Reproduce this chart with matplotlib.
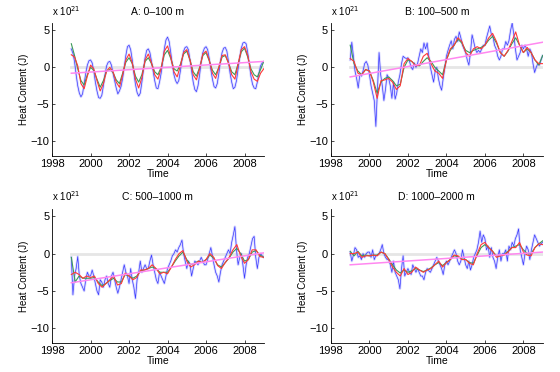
import numpy as np
import matplotlib
matplotlib.use('Agg')
import matplotlib.pyplot as plt

plt.rcParams['font.family'] = ['Liberation Sans', 'DejaVu Sans']

# time axis for the monthly raw series; smoothed series are evenly spaced 1999-2009
t_month = 1999 + np.arange(121) / 12.0

titles = ['A: 0\u2013100 m', 'B: 100\u2013500 m', 'C: 500\u20131000 m', 'D: 1000\u20132000 m']

# ---- panel A: 0-100 m (smoothed series every 2 months) ----
blue_a = [2.5, 1.9, 0.8, -1.0, -2.5, -3.5, -4.0, -3.6, -2.2, -0.8, 0.3, 0.9,
          1.0, 0.6, -0.5, -2.0, -3.2, -4.1, -4.2, -3.8, -2.5, -1.0, 0.2, 0.7,
          0.8, 0.3, -0.8, -1.8, -2.8, -3.6, -3.2, -2.6, -1.5, 0.0, 1.6, 2.8,
          3.0, 2.4, 1.0, -0.8, -2.3, -3.4, -3.9, -3.5, -2.0, -0.3, 1.3, 2.3,
          2.5, 2.0, 0.8, -0.5, -1.8, -2.8, -2.9, -2.0, -0.8, 0.8, 2.5, 3.7,
          4.1, 3.5, 2.0, 0.3, -1.0, -1.8, -2.2, -1.8, -0.5, 1.0, 2.2, 2.7,
          2.8, 2.4, 1.0, -0.5, -2.0, -3.0, -3.3, -2.5, -1.0, 0.8, 2.0, 2.6,
          2.8, 2.4, 1.2, -0.3, -1.6, -2.6, -2.8, -2.2, -0.8, 0.8, 2.0, 2.6,
          2.7, 2.2, 0.8, -0.8, -2.0, -2.9, -2.7, -1.8, -0.2, 1.3, 2.6, 3.3,
          3.4, 3.2, 2.0, 0.4, -1.2, -2.3, -2.8, -2.9, -2.0, -0.8, 0.2, 0.6,
          0.7]
red_a = [1.7, 1.4, 0.2, -2.2, -2.9, -1.2,
         0.3, -0.2, -1.8, -3.2, -2.2, -0.5,
         0.0, -0.6, -2.0, -2.7, -1.0, 1.0,
         1.8, 0.6, -1.6, -2.8, -1.4, 1.0,
         1.8, 0.6, -1.0, -1.6, -0.2, 2.2,
         2.9, 1.4, -0.6, -1.3, 0.2, 2.0,
         2.4, 1.0, -1.0, -1.7, -0.2, 1.8,
         2.2, 1.0, -0.8, -1.5, 0.0, 1.6,
         1.7, 0.6, -1.0, -1.6, 0.4, 2.4,
         2.8, 1.6, -0.6, -1.6, -1.9, -0.8,
         -0.2]
green_a = [3.2, 1.6, -0.2, -1.8, -2.4, -1.0,
           0.0, -0.4, -1.6, -2.7, -1.8, -0.5,
           -0.3, -0.7, -1.7, -2.2, -0.8, 0.7,
           1.3, 0.5, -1.2, -2.0, -1.0, 0.8,
           1.3, 0.5, -0.6, -1.0, 0.0, 1.7,
           2.3, 1.2, -0.2, -0.5, 0.4, 1.8,
           2.2, 1.0, -0.6, -1.2, 0.0, 1.6,
           2.0, 0.9, -0.4, -1.0, 0.0, 1.4,
           1.6, 0.6, -0.6, -1.0, 0.5, 2.1,
           2.6, 1.4, -0.2, -1.0, -1.3, -0.3,
           0.8]
trend_a = [-0.8, 0.8]

# ---- panel B: 100-500 m (smoothed series every 0.2 yr) ----
blue_b = [1.0, 3.4, 1.5, -0.5, -1.5, -2.8, -1.0, -1.2, -0.5, 0.5, 0.8, 0.3,
          -1.0, -2.5, -3.5, -4.5, -8.0, -3.0, 2.0, -1.0, -2.5, -4.5, -3.0, -1.0,
          -1.5, -2.5, -4.2, -2.0, -4.3, -3.5, -2.0, -1.0, 0.5, 1.5, 1.3, 1.2,
          1.3, 0.8, 0.0, -0.3, 0.6, 0.0, 0.5, 1.5, 2.5, 2.0, 3.3, 2.5,
          3.3, 1.5, 0.0, -1.0, -2.0, -0.5, 0.0, -1.5, -2.5, -3.1, -1.5, 0.0,
          1.5, 2.3, 3.0, 3.6, 2.5, 3.8, 4.2, 3.5, 4.8, 4.0, 3.0, 2.5,
          2.0, 1.0, 0.3, 2.0, 4.4, 3.5, 2.5, 2.0, 2.3, 2.0, 2.5, 3.0,
          3.0, 4.0, 4.8, 5.6, 4.5, 4.2, 3.0, 2.5, 1.5, 1.0, 1.5, 2.5,
          2.5, 3.5, 3.0, 3.6, 5.0, 6.0, 4.5, 2.5, 1.0, 1.5, 2.0, 3.0,
          2.5, 3.0, 2.5, 1.5, 2.5, 2.0, 0.5, -0.7, 0.0, 0.5, 0.3, 1.0,
          1.6]
red_b = [1.2, 0.8, -0.8, -1.0, -0.3,
         -0.5, -2.0, -4.2, -1.8, -1.7,
         -1.5, -2.0, -3.0, -2.5, 0.5,
         1.2, 0.8, 0.2, 0.3, 1.5,
         1.9, 0.5, -0.5, -0.8, -1.5,
         1.0, 2.5, 3.0, 4.0, 3.5,
         2.0, 1.5, 2.5, 2.8, 2.5,
         3.0, 4.0, 4.6, 3.5, 2.0,
         1.5, 2.3, 3.5, 4.8, 3.0,
         2.0, 2.7, 2.0, 1.0, 0.5,
         0.5]
green_b = [3.0, 0.5, -0.5, -1.0, -0.3,
           -0.5, -1.8, -3.5, -2.0, -1.5,
           -1.3, -1.8, -2.5, -2.3, 0.0,
           1.0, 0.8, 0.3, 0.2, 0.8,
           1.3, 0.8, 0.0, -0.5, -1.0,
           1.0, 2.3, 3.0, 3.8, 3.3,
           2.3, 2.0, 2.3, 2.5, 2.7,
           3.0, 3.7, 4.2, 3.3, 2.0,
           1.5, 2.2, 3.2, 4.0, 3.0,
           2.0, 2.5, 2.0, 1.0, 0.3,
           1.6]
trend_b = [-1.3, 3.4]

# ---- panel C: 500-1000 m ----
blue_c = [-0.5, -5.5, -3.0, -2.0, -0.4, -3.0, -4.0, -4.5, -5.0, -3.5, -2.5, -3.0,
          -3.0, -2.2, -3.0, -4.0, -5.0, -5.5, -3.5, -3.8, -4.5, -3.5, -3.0, -4.0,
          -4.5, -3.0, -2.5, -3.5, -4.5, -5.3, -4.5, -3.5, -2.5, -1.5, -2.5, -3.0,
          -4.0, -2.0, -3.5, -4.5, -6.0, -3.5, -2.5, -1.0, -2.5, -2.0, -1.5, -2.0,
          -2.0, -1.0, -0.2, -1.5, -2.5, -3.5, -4.0, -2.5, -3.0, -3.5, -4.0, -3.0,
          -2.0, -1.5, -1.0, -0.3, 0.0, 0.5, 0.2, 0.8, 1.2, 1.8, 0.0, -1.0,
          -2.0, -1.0, -1.5, -3.0, -2.0, -1.0, -1.2, -1.5, -1.0, -0.5, -1.0, -1.5,
          -1.5, -0.8, 0.0, 0.8, -0.3, -1.5, -2.5, -3.0, -3.8, -2.5, -1.5, -1.0,
          -0.5, 0.0, 0.5, 0.0, 1.5, 2.5, 3.6, 0.5, -1.5, -0.5, 0.0, -1.5,
          -3.3, -1.5, -0.5, 0.0, 1.0, 2.0, 2.3, -0.5, -2.0, -0.5, 0.0, -0.3,
          -0.5]
red_c = [-2.8, -2.5, -2.8, -3.3, -3.0,
         -3.2, -3.0, -4.0, -4.5, -4.0,
         -3.5, -3.0, -4.2, -4.0, -2.6,
         -3.0, -3.5, -3.2, -2.2, -2.2,
         -2.0, -1.5, -2.0, -2.7, -2.5,
         -2.7, -1.8, -0.8, 0.0, 0.4,
         -1.0, -1.8, -1.5, -1.0, -1.2,
         -0.8, 0.0, -0.5, -1.6, -2.0,
         -1.2, -0.5, 0.5, 1.2, -0.3,
         -1.3, -0.8, 0.5, 0.5, -0.4,
         -0.5]
green_c = [-0.5, -3.8, -3.0, -3.3, -3.3,
           -3.3, -3.2, -3.8, -4.3, -4.0,
           -3.6, -3.3, -3.8, -3.8, -2.8,
           -3.0, -3.3, -3.0, -2.3, -2.2,
           -2.0, -1.8, -2.0, -2.5, -2.5,
           -2.5, -1.8, -1.0, -0.3, 0.2,
           -0.8, -1.5, -1.3, -1.0, -1.2,
           -0.8, -0.2, -0.6, -1.5, -1.8,
           -1.2, -0.6, 0.2, 0.7, 0.0,
           -1.0, -0.8, 0.2, 0.4, -0.2,
           -0.5]
trend_c = [-3.9, 0.1]

# ---- panel D: 1000-2000 m ----
blue_d = [0.2, -1.0, -0.2, 0.8, 0.5, -0.5, -0.3, -0.8, 0.0, -0.5, 0.0, 0.2,
          0.2, -0.5, 0.5, -0.8, -0.3, -0.2, 0.0, 0.5, 1.2, 0.0, -0.5, -0.8,
          -0.8, -1.5, -2.5, -1.0, -2.5, -3.0, -3.5, -4.7, -2.0, -0.3, -3.0, -2.5,
          -2.0, -2.5, -2.8, -1.5, -2.0, -2.5, -2.0, -2.5, -3.0, -3.0, -3.5, -2.5,
          -2.0, -2.3, -2.5, -2.0, -1.5, -1.0, -0.5, -1.0, -1.5, -2.0, -2.8, -1.5,
          -1.0, -1.5, -1.0, -0.5, 0.0, 0.5, 0.0, -1.0, -1.5, -1.0, 0.5, -0.5,
          -1.5, -2.0, -1.0, -2.2, -1.5, -0.5, 0.0, 0.5, 1.5, 3.0, 1.5, 2.5,
          2.0, 0.5, 1.0, -0.5, 0.8, -0.5, -1.0, -2.0, -0.5, 0.5, -1.0, 0.0,
          0.0, 0.5, -1.0, 1.0, 0.5, 1.5, 1.0, 2.0, 2.5, 3.3, 0.5, -0.5,
          -1.5, 0.0, 1.0, 0.5, -0.8, 0.5, 1.5, 2.5, 2.0, 1.5, 1.0, 1.3,
          1.5]
red_d = [0.0, 0.0, 0.2, -0.5, -0.3,
         -0.3, -0.2, -0.3, 0.2, 0.0,
         -0.8, -1.8, -2.5, -3.0, -2.0,
         -2.8, -2.5, -1.8, -2.2, -2.5,
         -2.2, -2.0, -1.5, -1.0, -1.8,
         -1.2, -0.8, -0.2, -0.3, -0.8,
         -0.8, -1.3, -1.5, 0.0, 1.2,
         1.5, 0.8, 0.3, -0.5, -0.3,
         -0.2, 0.2, 0.8, 0.8, 1.5,
         0.2, -0.2, -0.3, 0.8, 1.3,
         1.2]
green_d = [0.3, -0.3, 0.3, -0.3, -0.2,
           -0.3, -0.2, -0.2, 0.2, 0.0,
           -0.7, -1.5, -2.2, -2.6, -2.2,
           -2.5, -2.3, -2.0, -2.2, -2.4,
           -2.2, -1.9, -1.5, -1.2, -1.6,
           -1.2, -0.8, -0.3, -0.4, -0.7,
           -0.8, -1.2, -1.3, -0.2, 0.8,
           1.2, 0.8, 0.3, -0.3, -0.3,
           -0.1, 0.3, 0.8, 1.0, 1.2,
           0.5, 0.0, 0.0, 0.8, 1.3,
           1.7]
trend_d = [-1.5, 0.2]

trend_t = [1999, 2009]
zero_line = [0, 0]

panels = [
    (titles[0], blue_a, red_a, green_a, trend_a),
    (titles[1], blue_b, red_b, green_b, trend_b),
    (titles[2], blue_c, red_c, green_c, trend_c),
    (titles[3], blue_d, red_d, green_d, trend_d),
]

# axes rectangles [left, bottom, width, height] in figure fraction
positions = [
    [0.093, 0.581, 0.378, 0.357],
    [0.591, 0.581, 0.378, 0.357],
    [0.093, 0.077, 0.378, 0.362],
    [0.591, 0.077, 0.378, 0.362],
]

fig = plt.figure(figsize=(5.6, 3.72), dpi=100)

for pos, (title, blue, red, green, trend) in zip(positions, panels):
    ax = fig.add_axes(pos)
    t_smooth = np.linspace(1999, 2009, len(red))
    ax.plot(trend_t, zero_line, color='#e6e6e6', lw=2.0, zorder=1)
    # raw monthly series: soft halo plus thin core
    ax.plot(t_month, blue, color='#a0a0ff', lw=1.8, alpha=0.4, zorder=2)
    ax.plot(t_month, blue, color='#3a3aff', lw=0.5, zorder=3)
    ax.plot(t_smooth, green, color='#3c9a58', lw=0.8, zorder=4)
    ax.plot(t_smooth, red, color='#ff3838', lw=0.8, zorder=5)
    ax.plot(trend_t, trend, color='#ff88f0', lw=1.1, zorder=6)

    ax.set_xlim(1998, 2009)
    ax.set_ylim(-12, 6)
    ax.set_xticks([1998, 2000, 2002, 2004, 2006, 2008])
    ax.set_yticks([-10, -5, 0, 5])
    ax.set_yticklabels(['\u221210', '\u22125', '0', '5'])
    for s in ['top', 'right']:
        ax.spines[s].set_visible(False)
    for s in ['left', 'bottom']:
        ax.spines[s].set_linewidth(0.6)
    ax.tick_params(direction='in', length=2, width=0.5, labelsize=8, pad=2)
    ax.set_title(title, fontsize=7.5, pad=6)
    ax.set_xlabel('Time', fontsize=7.5, labelpad=0)
    ax.set_ylabel('Heat Content (J)', fontsize=7, labelpad=1)
    ax.text(0.0, 1.04, r'x 10$^{21}$', transform=ax.transAxes,
            fontsize=7, ha='left', va='bottom')

fig.savefig('out.png', dpi=100)
